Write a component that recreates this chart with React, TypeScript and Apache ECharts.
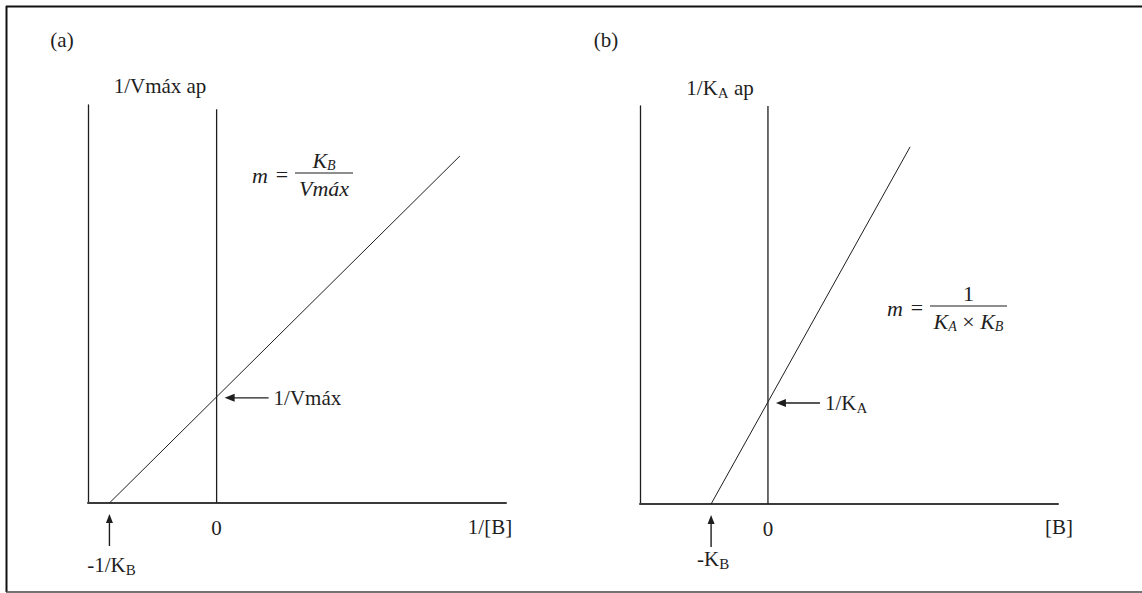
import React, { useEffect, useRef } from 'react';
import * as echarts from 'echarts';

// ---- Panel (a): 1/Vmáx ap plotted against 1/[B] ----
const xDomainA = [-1.2, 2.7];
const yDomainA = [0, 3.75];
const lineA = [[-1, 0], [2.27, 3.27]]; // crosses -1/K_B on x, 1/Vmáx on y
const zeroLineA = [[0, 0], [0, 3.71]];

// ---- Panel (b): 1/K_A ap plotted against [B] ----
const xDomainB = [-2.25, 5.1];
const yDomainB = [0, 3.9];
const lineB = [[-1, 0], [2.5, 3.5]]; // crosses -K_B on x, 1/K_A on y
const zeroLineB = [[0, 0], [0, 3.9]];

const zeroTicks = [0];
const panelTags = ['(a)', '(b)'];
const xAxisTitles = ['1/[B]', '[B]'];
const yAxisTitles = ['{t|1/Vmáx ap}', '{t|1/K}{s|A}{t| ap}'];
const interceptLabels = ['{t|1/Vmáx}', '{t|1/K}{s|A}'];
const rootLabels = ['{t|-1/K}{s|B}', '{t|-K}{s|B}'];
const interceptPoints = [[0, 1], [0, 1]];
const rootPoints = [[-1, 0], [-1, 0]];
const slopeNumerators = ['{i|K}{is|B}', '{n|1}'];
const slopeDenominators = ['{i|Vmáx}', '{i|K}{is|A}{n| × }{i|K}{is|B}'];

// ---- layout ----
const W = 1142;
const H = 593;
const INK = '#1e1e1e';
const SERIF = '"Liberation Serif", "Times New Roman", serif';
const GRIDS = [
  { left: 88, top: 105, width: 418, height: 398 },
  { left: 640, top: 106, width: 418, height: 398 },
];
const TAG_POS = [[62, 40], [606, 40]];
const YTITLE_POS = [[160, 86], [720, 88]];
const XTITLE_POS = [[490, 527], [1059, 527]];
const ROOT_LABEL_DY = [62, 55];
// fraction bar of each slope formula: [left, right, y]
const BAR_POS = [[295, 353, 173], [930, 1007, 306]];

const labelRich = {
  t: { fontFamily: SERIF, fontSize: 21, lineHeight: 23, fill: INK },
  s: { fontFamily: SERIF, fontSize: 15, lineHeight: 15, padding: [10, 0, 0, 0], fill: INK },
};
const mathRich = {
  i: { fontFamily: SERIF, fontStyle: 'italic', fontSize: 22, lineHeight: 23, fill: INK },
  is: { fontFamily: SERIF, fontStyle: 'italic', fontSize: 14, lineHeight: 14, padding: [10, 0, 0, 0], fill: INK },
  n: { fontFamily: SERIF, fontSize: 22, lineHeight: 23, fill: INK },
};

function richText(x: number, y: number, text: string, rich: any, align = 'center') {
  return {
    type: 'text',
    x,
    y,
    silent: true,
    style: { text, rich, align, verticalAlign: 'middle', fill: INK, fontFamily: SERIF, fontSize: 21 },
  };
}

function segment(x1: number, y1: number, x2: number, y2: number, width = 1.3, color = INK) {
  return { type: 'line', silent: true, shape: { x1, y1, x2, y2 }, style: { stroke: color, lineWidth: width } };
}

function arrowLeft(tipX: number, y: number, len: number) {
  return [
    segment(tipX + 9, y, tipX + len, y, 1.4),
    { type: 'polygon', silent: true, shape: { points: [[tipX, y], [tipX + 10, y - 4], [tipX + 10, y + 4]] }, style: { fill: INK } },
  ];
}

function arrowUp(x: number, tipY: number, len: number) {
  return [
    segment(x, tipY + 8, x, tipY + len, 1.4),
    { type: 'polygon', silent: true, shape: { points: [[x, tipY], [x - 3.5, tipY + 9], [x + 3.5, tipY + 9]] }, style: { fill: INK } },
  ];
}

function buildAxes(i: number, xd: number[], yd: number[]) {
  const x = {
    type: 'value',
    gridIndex: i,
    min: xd[0],
    max: xd[1],
    axisLine: { show: true, onZero: false, lineStyle: { color: '#3a3a3a', width: 2 } },
    axisTick: { show: false },
    splitLine: { show: false },
    axisLabel: {
      customValues: zeroTicks,
      formatter: (v: number) => String(v),
      fontFamily: SERIF,
      fontSize: 21,
      color: INK,
      margin: 14,
    },
  };
  const y = {
    type: 'value',
    gridIndex: i,
    min: yd[0],
    max: yd[1],
    axisLine: { show: true, onZero: false, lineStyle: { color: INK, width: 1.3 } },
    axisTick: { show: false },
    splitLine: { show: false },
    axisLabel: { show: false },
  };
  return { x, y };
}

function lineSeries(i: number, data: number[][], width: number) {
  return {
    type: 'line',
    xAxisIndex: i,
    yAxisIndex: i,
    data,
    symbol: 'none',
    silent: true,
    lineStyle: { color: INK, width },
  };
}

export default function App() {
  const ref = useRef<HTMLDivElement>(null);

  useEffect(() => {
    const el = ref.current;
    if (!el) return;
    const chart = echarts.init(el, null, { renderer: 'svg' });
    const a = buildAxes(0, xDomainA, yDomainA);
    const b = buildAxes(1, xDomainB, yDomainB);
    chart.setOption({
      animation: false,
      backgroundColor: '#ffffff',
      grid: GRIDS.map((g) => ({ ...g, containLabel: false })),
      xAxis: [a.x, b.x],
      yAxis: [a.y, b.y],
      series: [
        lineSeries(0, lineA, 1),
        lineSeries(0, zeroLineA, 1.3),
        lineSeries(1, lineB, 1),
        lineSeries(1, zeroLineB, 1.3),
      ],
    });

    const px = (i: number, p: number[]) =>
      chart.convertToPixel({ xAxisIndex: i, yAxisIndex: i } as any, p) as number[];

    const g: any[] = [
      // frame
      segment(6, 6.5, W, 6.5, 2, '#111'),
      segment(6.5, 6, 6.5, 592, 2, '#111'),
      segment(6, 592, W, 592, 1.5, '#444'),
    ];

    for (let i = 0; i < 2; i++) {
      g.push(richText(TAG_POS[i][0], TAG_POS[i][1], panelTags[i], labelRich));
      g.push(richText(YTITLE_POS[i][0], YTITLE_POS[i][1], yAxisTitles[i], labelRich));
      g.push(richText(XTITLE_POS[i][0], XTITLE_POS[i][1], xAxisTitles[i], labelRich));

      const ip = px(i, interceptPoints[i]);
      g.push(...arrowLeft(ip[0] + 8, ip[1] + 1, 44));
      g.push(richText(ip[0] + 57, ip[1] + 1, interceptLabels[i], labelRich, 'left'));

      const rp = px(i, rootPoints[i]);
      g.push(...arrowUp(rp[0], rp[1] + 11, 32));
      g.push(richText(rp[0] + 2, rp[1] + ROOT_LABEL_DY[i], rootLabels[i], labelRich));

      const [bl, br, by] = BAR_POS[i];
      const cx = (bl + br) / 2;
      g.push(segment(bl, by, br, by, 1.2));
      g.push(richText(cx, by - 13, slopeNumerators[i], mathRich));
      g.push(richText(cx, by + 15, slopeDenominators[i], mathRich));
      g.push(richText(bl - 35, by + 2, '{i|m}', mathRich));
      g.push(richText(bl - 13, by + 1, '{n|=}', mathRich));
    }

    chart.setOption({ graphic: g });
    return () => chart.dispose();
  }, []);

  return (
    <div
      ref={ref}
      style={{ position: 'fixed', left: 0, top: 0, width: W, height: H, background: '#fff' }}
    />
  );
}
